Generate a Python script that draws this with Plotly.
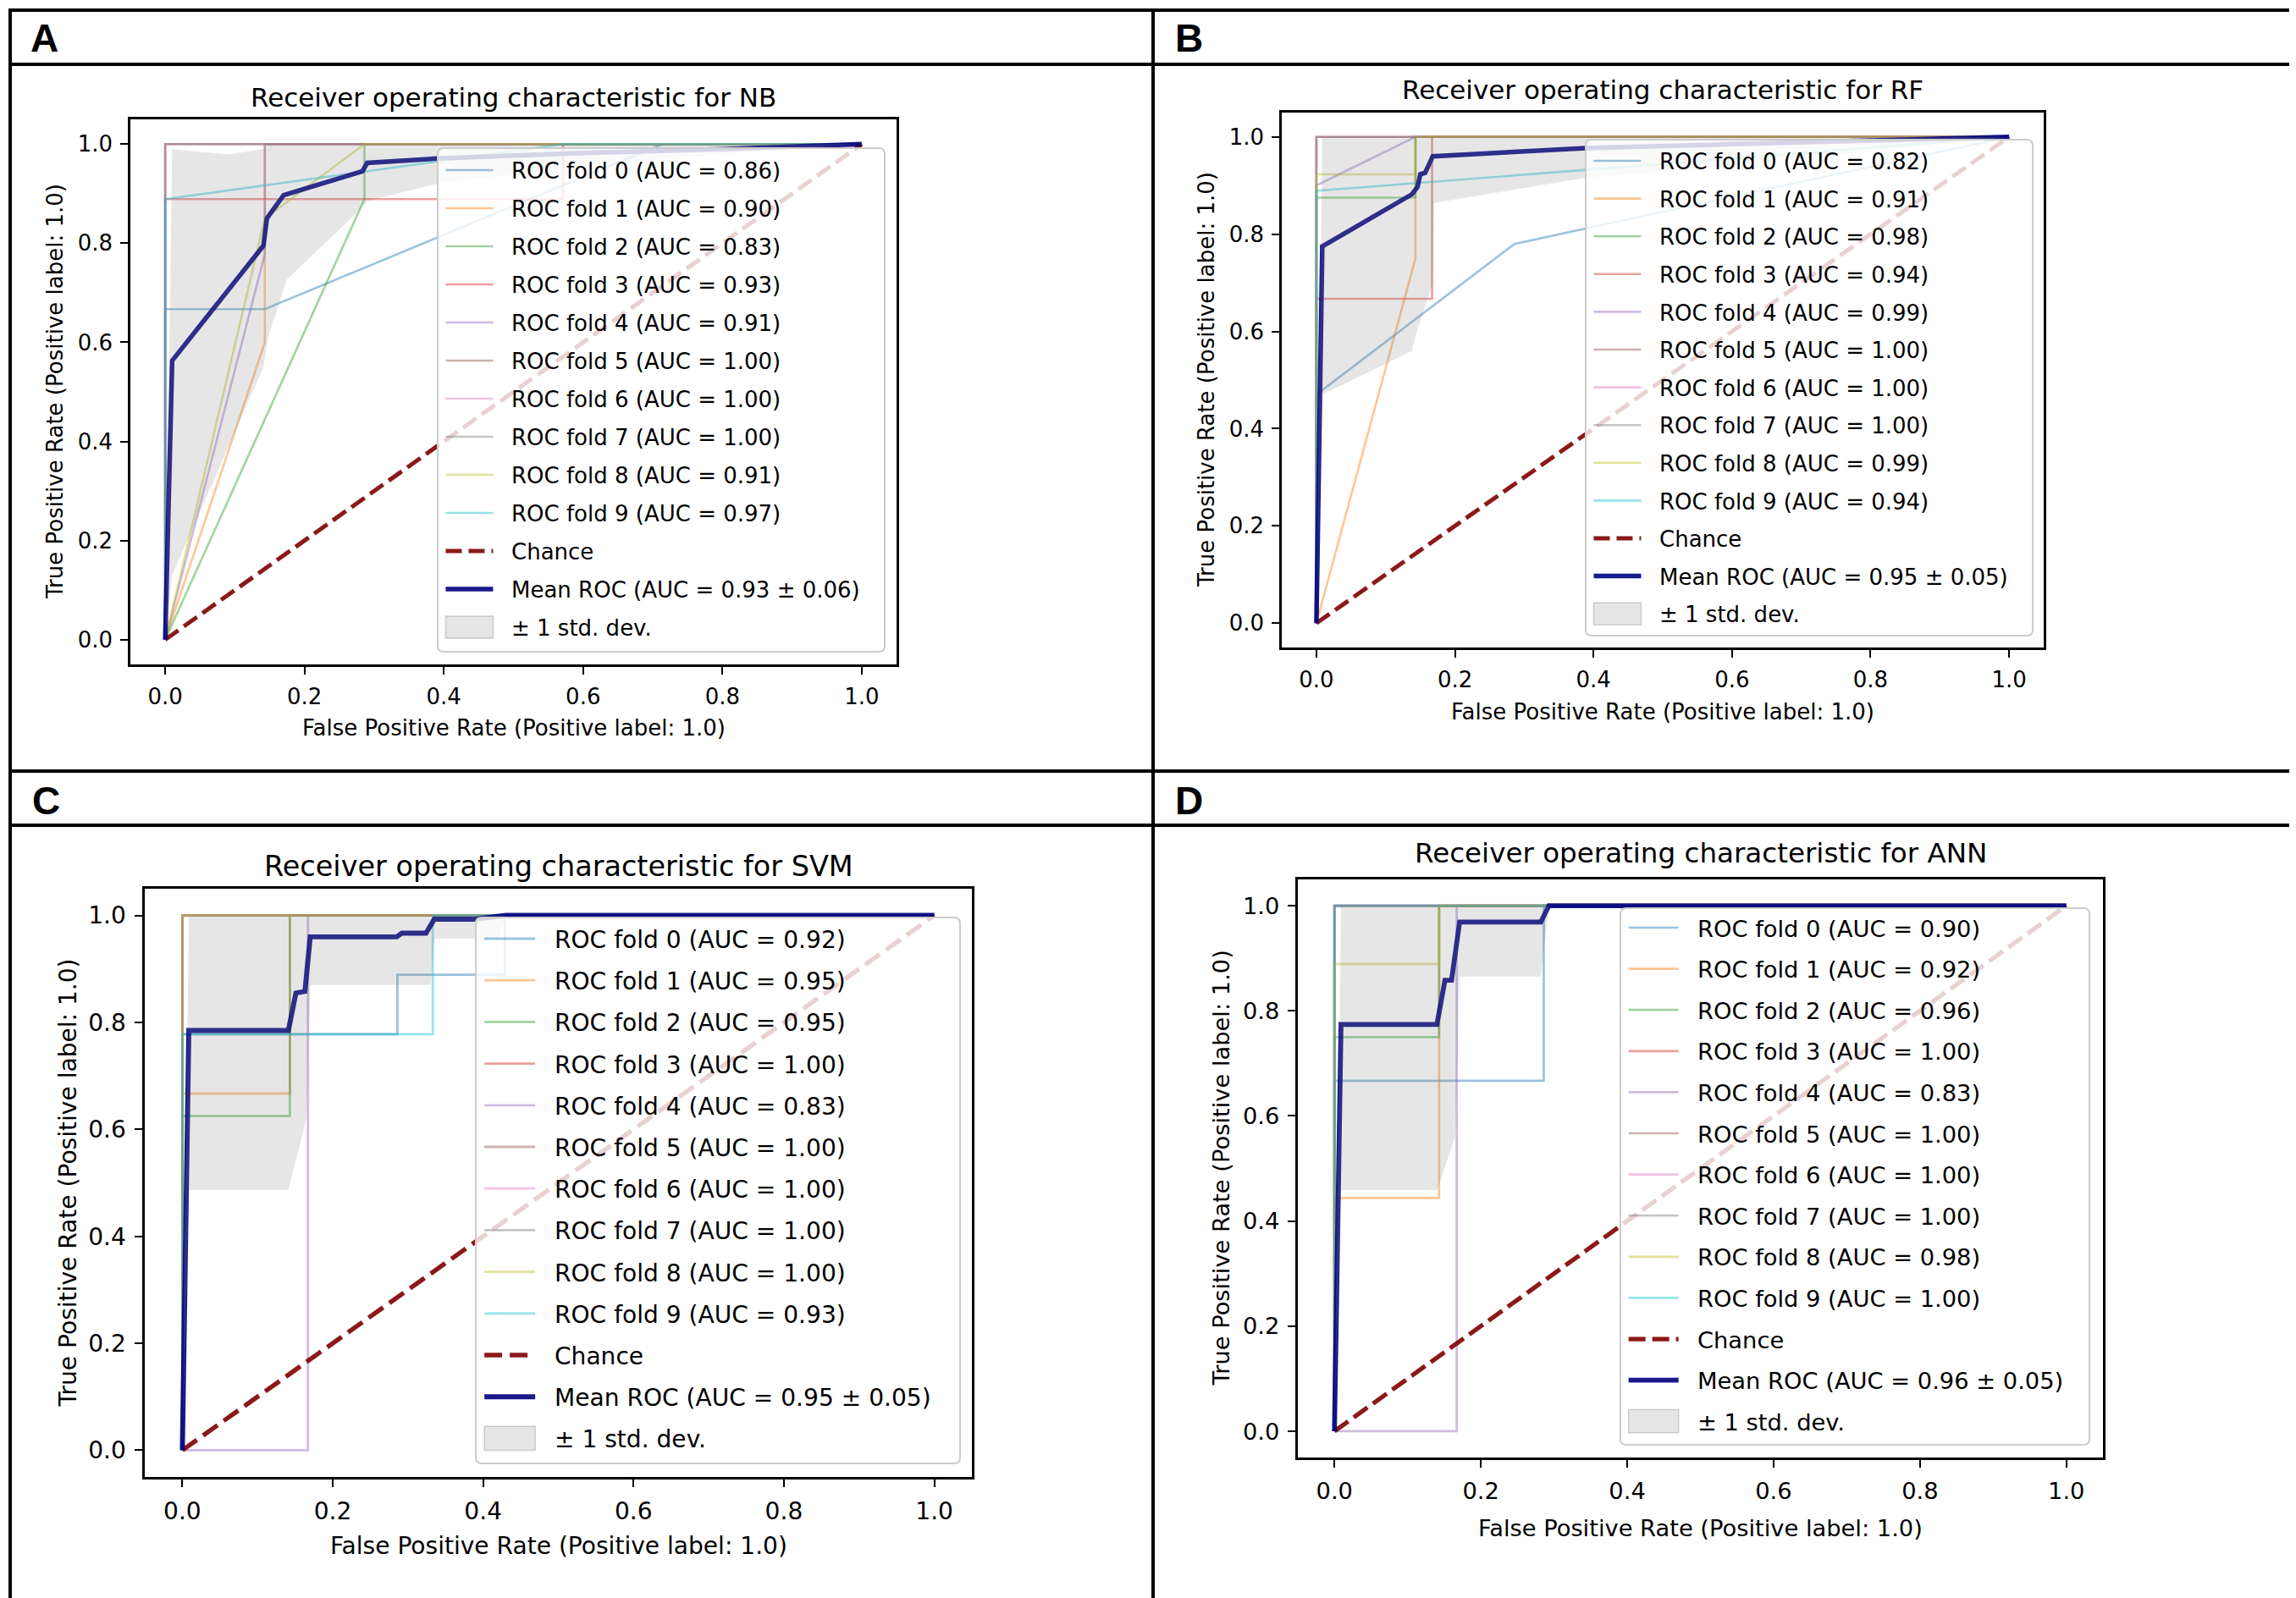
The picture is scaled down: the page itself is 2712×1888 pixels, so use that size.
import plotly.graph_objects as go

W, H = 2712, 1888

# ---------------- data ----------------
FOLD_COLORS = ["#1f77b4", "#ff7f0e", "#2ca02c", "#d62728", "#9467bd",
               "#8c564b", "#e377c2", "#7f7f7f", "#bcbd22", "#17becf"]
TICK_VALUES = [0.0, 0.2, 0.4, 0.6, 0.8, 1.0]
TICK_LABELS = ["0.0", "0.2", "0.4", "0.6", "0.8", "1.0"]
PANEL_LETTERS = ["A", "B", "C", "D"]
X_LABEL = "False Positive Rate (Positive label: 1.0)"
Y_LABEL = "True Positive Rate (Positive label: 1.0)"
CHANCE_FPR = [0, 1]
CHANCE_TPR = [0, 1]
STD_LABEL = "± 1 std. dev."

# A - NB
nb_title = "Receiver operating characteristic for NB"
nb_auc = ["0.86", "0.90", "0.83", "0.93", "0.91", "1.00", "1.00", "1.00", "0.91", "0.97"]
nb_fold_fpr = [[0, 0, 0.143, 0.714, 1], [0, 0.143, 0.143, 1], [0, 0.286, 0.286, 1],
               [0, 0, 0.571, 0.571, 1], [0, 0.143, 0.143, 1], [0, 0, 1], [0, 0, 1],
               [0, 0, 1], [0, 0.143, 0.286, 1], [0, 0, 0.571, 1]]
nb_fold_tpr = [[0, 0.667, 0.667, 1, 1], [0, 0.6, 1, 1], [0, 0.889, 1, 1],
               [0, 0.889, 0.889, 1, 1], [0, 0.778, 1, 1], [0, 1, 1], [0, 1, 1],
               [0, 1, 1], [0, 0.85, 1, 1], [0, 0.889, 1, 1]]
nb_mean_label = "Mean ROC (AUC = 0.93 ± 0.06)"
nb_mean_fpr = [0, 0.01, 0.141, 0.146, 0.152, 0.17, 0.283, 0.29, 0.39, 0.6, 0.8, 1.0]
nb_mean_tpr = [0, 0.563, 0.795, 0.85, 0.862, 0.897, 0.945, 0.962, 0.971, 0.982, 0.99, 1.0]
nb_low_fpr = [0, 0.01, 0.141, 0.147, 0.174, 0.271, 0.29, 0.39, 0.6, 0.8, 1.0]
nb_low_tpr = [0, 0.13, 0.55, 0.606, 0.726, 0.856, 0.885, 0.92, 0.955, 0.98, 1.0]
nb_up_fpr = [0, 0.01, 0.09, 0.14, 0.15, 1.0]
nb_up_tpr = [0, 0.99, 0.979, 0.99, 1.0, 1.0]

# B - RF
rf_title = "Receiver operating characteristic for RF"
rf_auc = ["0.82", "0.91", "0.98", "0.94", "0.99", "1.00", "1.00", "1.00", "0.99", "0.94"]
rf_fold_fpr = [[0, 0, 0.286, 1], [0, 0.143, 0.143, 1], [0, 0, 0.143, 0.143, 1],
               [0, 0, 0.167, 0.167, 1], [0, 0, 0.143, 1], [0, 0, 1], [0, 0, 1],
               [0, 0, 1], [0, 0, 0.143, 0.143, 1], [0, 0, 1]]
rf_fold_tpr = [[0, 0.47, 0.78, 1], [0, 0.75, 1, 1], [0, 0.875, 0.875, 1, 1],
               [0, 0.667, 0.667, 1, 1], [0, 0.9, 1, 1], [0, 1, 1], [0, 1, 1],
               [0, 1, 1], [0, 0.923, 0.923, 1, 1], [0, 0.889, 1]]
rf_mean_label = "Mean ROC (AUC = 0.95 ± 0.05)"
rf_mean_fpr = [0, 0.0085, 0.138, 0.146, 0.15, 0.157, 0.168, 0.389, 0.6, 1.0]
rf_mean_tpr = [0, 0.775, 0.882, 0.897, 0.923, 0.926, 0.96, 0.977, 0.985, 1.0]
rf_low_fpr = [0, 0.0085, 0.138, 0.145, 0.168, 0.17, 0.389, 0.6, 1.0]
rf_low_tpr = [0, 0.47, 0.56, 0.6, 0.70, 0.864, 0.916, 0.94, 1.0]
rf_up_fpr = [0, 0.0085, 1.0]
rf_up_tpr = [0, 1.0, 1.0]

# C - SVM
svm_title = "Receiver operating characteristic for SVM"
svm_auc = ["0.92", "0.95", "0.95", "1.00", "0.83", "1.00", "1.00", "1.00", "1.00", "0.93"]
svm_fold_fpr = [[0, 0, 0.286, 0.286, 0.429, 0.429, 1], [0, 0, 0.143, 0.143, 1],
                [0, 0, 0.143, 0.143, 1], [0, 0, 1], [0, 0.167, 0.167, 1], [0, 0, 1],
                [0, 0, 1], [0, 0, 1], [0, 0, 1], [0, 0, 0.333, 0.333, 1]]
svm_fold_tpr = [[0, 0.778, 0.778, 0.889, 0.889, 1, 1], [0, 0.667, 0.667, 1, 1],
                [0, 0.625, 0.625, 1, 1], [0, 1, 1], [0, 0, 1, 1], [0, 1, 1],
                [0, 1, 1], [0, 1, 1], [0, 1, 1], [0, 0.778, 0.778, 1, 1]]
svm_mean_label = "Mean ROC (AUC = 0.95 ± 0.05)"
svm_mean_fpr = [0, 0.0086, 0.141, 0.151, 0.163, 0.17, 0.285, 0.292, 0.324, 0.335, 0.389, 0.43, 1.0]
svm_mean_tpr = [0, 0.785, 0.785, 0.855, 0.858, 0.96, 0.96, 0.967, 0.967, 0.993, 0.993, 1.0, 1.0]
svm_low_fpr = [0, 0.0086, 0.141, 0.165, 0.17, 0.33, 0.335, 0.42, 0.43, 1.0]
svm_low_tpr = [0, 0.487, 0.487, 0.62, 0.87, 0.87, 0.957, 0.957, 1.0, 1.0]
svm_up_fpr = [0, 0.0086, 1.0]
svm_up_tpr = [0, 1.0, 1.0]

# D - ANN
ann_title = "Receiver operating characteristic for ANN"
ann_auc = ["0.90", "0.92", "0.96", "1.00", "0.83", "1.00", "1.00", "1.00", "0.98", "1.00"]
ann_fold_fpr = [[0, 0, 0.286, 0.286, 1], [0, 0, 0.143, 0.143, 1], [0, 0, 0.143, 0.143, 1],
                [0, 0, 1], [0, 0.167, 0.167, 1], [0, 0, 1], [0, 0, 1], [0, 0, 1],
                [0, 0, 0.143, 0.143, 1], [0, 0, 1]]
ann_fold_tpr = [[0, 0.667, 0.667, 1, 1], [0, 0.444, 0.444, 1, 1], [0, 0.75, 0.75, 1, 1],
                [0, 1, 1], [0, 0, 1, 1], [0, 1, 1], [0, 1, 1], [0, 1, 1],
                [0, 0.889, 0.889, 1, 1], [0, 1, 1]]
ann_mean_label = "Mean ROC (AUC = 0.96 ± 0.05)"
ann_mean_fpr = [0, 0.009, 0.14, 0.151, 0.16, 0.171, 0.282, 0.293, 1.0]
ann_mean_tpr = [0, 0.774, 0.774, 0.858, 0.858, 0.969, 0.969, 1.0, 1.0]
ann_low_fpr = [0, 0.009, 0.14, 0.165, 0.171, 0.282, 0.293, 1.0]
ann_low_tpr = [0, 0.459, 0.459, 0.56, 0.865, 0.865, 1.0, 1.0]
ann_up_fpr = [0, 0.009, 1.0]
ann_up_tpr = [0, 1.0, 1.0]

# ---------------- layout (pixel geometry) ----------------
panels = [
    dict(title=nb_title, auc=nb_auc, ffpr=nb_fold_fpr, ftpr=nb_fold_tpr, mlab=nb_mean_label,
         mfpr=nb_mean_fpr, mtpr=nb_mean_tpr, lfpr=nb_low_fpr, ltpr=nb_low_tpr,
         ufpr=nb_up_fpr, utpr=nb_up_tpr,
         ax=(146, 133, 1051, 777), s=1.0, title_y=107, xt_y=852, yt_x=57,
         leg_box=(509, 167, 1037, 762), text_x=596, first_y=193, pitch=45.0,
         letter_xy=(26, 37)),
    dict(title=rf_title, auc=rf_auc, ffpr=rf_fold_fpr, ftpr=rf_fold_tpr, mlab=rf_mean_label,
         mfpr=rf_mean_fpr, mtpr=rf_mean_tpr, lfpr=rf_low_fpr, ltpr=rf_low_tpr,
         ufpr=rf_up_fpr, utpr=rf_up_tpr,
         ax=(1506, 125, 2406, 757), s=1.0, title_y=98, xt_y=833, yt_x=1417,
         leg_box=(1865, 157, 2393, 743), text_x=1952, first_y=182, pitch=44.6,
         letter_xy=(1378, 37)),
    dict(title=svm_title, auc=svm_auc, ffpr=svm_fold_fpr, ftpr=svm_fold_tpr, mlab=svm_mean_label,
         mfpr=svm_mean_fpr, mtpr=svm_mean_tpr, lfpr=svm_low_fpr, ltpr=svm_low_tpr,
         ufpr=svm_up_fpr, utpr=svm_up_tpr,
         ax=(163, 1042, 1140, 1737), s=1.08, title_y=1015, xt_y=1818, yt_x=72,
         leg_box=(554, 1076, 1126, 1721), text_x=647, first_y=1101, pitch=49.2,
         letter_xy=(28, 938)),
    dict(title=ann_title, auc=ann_auc, ffpr=ann_fold_fpr, ftpr=ann_fold_tpr, mlab=ann_mean_label,
         mfpr=ann_mean_fpr, mtpr=ann_mean_tpr, lfpr=ann_low_fpr, ltpr=ann_low_tpr,
         ufpr=ann_up_fpr, utpr=ann_up_tpr,
         ax=(1525, 1031, 2476, 1714), s=1.05, title_y=1000, xt_y=1797, yt_x=1434,
         leg_box=(1906, 1065, 2460, 1699), text_x=1997, first_y=1088, pitch=48.6,
         letter_xy=(1378, 938)),
]

FONT = "DejaVu Sans"
NBSP = "\u00a0"
SPACE_EM = 0.318  # width of a space in DejaVu Sans


def px(x):
    return x / W


def py(y):
    return 1 - y / H


def rgba(hex_color, a):
    h = hex_color.lstrip("#")
    r, g, b = int(h[0:2], 16), int(h[2:4], 16), int(h[4:6], 16)
    return f"rgba({r},{g},{b},{a})"


def rounded_rect(x0, y0, x1, y1, r):
    def P(x, y):
        return f"{px(x):.6f},{py(y):.6f}"
    return (f"M {P(x0 + r, y0)} L {P(x1 - r, y0)} Q {P(x1, y0)} {P(x1, y0 + r)} "
            f"L {P(x1, y1 - r)} Q {P(x1, y1)} {P(x1 - r, y1)} "
            f"L {P(x0 + r, y1)} Q {P(x0, y1)} {P(x0, y1 - r)} "
            f"L {P(x0, y0 + r)} Q {P(x0, y0)} {P(x0 + r, y0)} Z")


fig = go.Figure()
layout = dict(width=W, height=H, autosize=False, margin=dict(l=0, r=0, t=0, b=0),
              paper_bgcolor="white", plot_bgcolor="white", showlegend=True)
shapes = []
annotations = []

for i, p in enumerate(panels):
    n = i + 1
    sfx = "" if n == 1 else str(n)
    xa, ya, leg = "x" + sfx, "y" + sfx, "legend" + sfx
    s = p["s"]
    x0, y0, x1, y1 = p["ax"]
    fs = 26 * s
    pad = NBSP * 2

    for k in range(10):
        fig.add_trace(go.Scatter(
            x=p["ffpr"][k], y=p["ftpr"][k], mode="lines",
            line=dict(color=rgba(FOLD_COLORS[k], 0.45), width=2.6 * s),
            name=f"{pad}ROC fold {k} (AUC = {p['auc'][k]})",
            xaxis=xa, yaxis=ya, legend=leg, legendgroup=f"{n}_{k}", hoverinfo="skip"))
    fig.add_trace(go.Scatter(
        x=CHANCE_FPR, y=CHANCE_TPR, mode="lines",
        line=dict(color="rgba(128,0,0,0.9)", width=5 * s, dash=f"{19*s:.0f}px,{8*s:.0f}px"),
        name=f"{pad}Chance", xaxis=xa, yaxis=ya, legend=leg, legendgroup=f"{n}_c",
        hoverinfo="skip"))
    fig.add_trace(go.Scatter(
        x=p["mfpr"], y=p["mtpr"], mode="lines",
        line=dict(color="rgba(0,0,128,0.9)", width=5.5 * s),
        name=f"{pad}{p['mlab']}", xaxis=xa, yaxis=ya, legend=leg, legendgroup=f"{n}_m",
        hoverinfo="skip"))
    fig.add_trace(go.Scatter(
        x=p["lfpr"], y=p["ltpr"], mode="lines", line=dict(width=0, color="rgba(0,0,0,0)"),
        showlegend=False, xaxis=xa, yaxis=ya, hoverinfo="skip"))
    fig.add_trace(go.Scatter(
        x=p["ufpr"], y=p["utpr"], mode="lines", line=dict(width=0, color="rgba(0,0,0,0)"),
        fill="tonexty", fillcolor="rgba(128,128,128,0.2)", showlegend=False,
        xaxis=xa, yaxis=ya, hoverinfo="skip"))
    # legend entry for the band (its swatch is drawn as a shape below)
    fig.add_trace(go.Scatter(
        x=[None], y=[None], mode="lines", line=dict(width=0, color="rgba(0,0,0,0)"),
        name=f"{pad}{STD_LABEL}", xaxis=xa, yaxis=ya, legend=leg, legendgroup=f"{n}_s",
        hoverinfo="skip"))

    axis_common = dict(range=[-0.05, 1.05], showline=True, linecolor="black", linewidth=2.5,
                       mirror=True, ticks="outside", ticklen=9 * s, tickwidth=2, tickcolor="black",
                       tickvals=TICK_VALUES, ticktext=TICK_LABELS, showgrid=False, zeroline=False,
                       tickfont=dict(family=FONT, size=fs, color="black"), fixedrange=True)
    layout["xaxis" + sfx] = dict(axis_common, domain=[px(x0), px(x1)], anchor=ya,
                                 ticklabelstandoff=4)
    layout["yaxis" + sfx] = dict(axis_common, domain=[py(y1), py(y0)], anchor=xa,
                                 ticklabelstandoff=4)

    item_h = 1.3 * fs + 3
    iw = int(round(56 * s))
    gap_px = 2 * SPACE_EM * fs
    leg_x = p["text_x"] - gap_px - iw - 10
    leg_top = p["first_y"] - (item_h / 2 + 5)
    layout[leg] = dict(x=px(leg_x), y=py(leg_top), xanchor="left", yanchor="top",
                       xref="paper", yref="paper", bgcolor="rgba(0,0,0,0)", borderwidth=0,
                       font=dict(family=FONT, size=fs, color="black"),
                       itemwidth=iw,
                       tracegroupgap=p["pitch"] - item_h,
                       itemclick=False, itemdoubleclick=False)

    bx0, by0, bx1, by1 = p["leg_box"]
    shapes.append(dict(type="path", xref="paper", yref="paper", layer="above",
                       path=rounded_rect(bx0, by0, bx1, by1, 7),
                       fillcolor="rgba(255,255,255,0.8)", line=dict(color="#cccccc", width=2)))
    # band swatch in the legend, aligned with the line samples
    sy = p["first_y"] + 12 * p["pitch"]
    sx0 = leg_x + 5
    shapes.append(dict(type="rect", xref="paper", yref="paper", layer="above",
                       x0=px(sx0), x1=px(sx0 + iw),
                       y0=py(sy + 13 * s), y1=py(sy - 13 * s),
                       fillcolor="rgba(128,128,128,0.2)",
                       line=dict(color="rgba(128,128,128,0.35)", width=1.5)))

    cx = (x0 + x1) / 2
    cy = (y0 + y1) / 2
    annotations.append(dict(text=p["title"], x=px(cx), y=py(p["title_y"]), xref="paper",
                            yref="paper", xanchor="center", yanchor="middle", showarrow=False,
                            font=dict(family=FONT, size=31 * s, color="black")))
    annotations.append(dict(text=X_LABEL, x=px(cx), y=py(p["xt_y"]), xref="paper", yref="paper",
                            xanchor="center", yanchor="middle", showarrow=False,
                            font=dict(family=FONT, size=fs, color="black")))
    annotations.append(dict(text=Y_LABEL, x=px(p["yt_x"]), y=py(cy), xref="paper", yref="paper",
                            xanchor="center", yanchor="middle", showarrow=False, textangle=-90,
                            font=dict(family=FONT, size=fs, color="black")))
    lxl, lyl = p["letter_xy"]
    annotations.append(dict(text=f"<b>{PANEL_LETTERS[i]}</b>", x=px(lxl), y=py(lyl),
                            xref="paper", yref="paper", xanchor="left", yanchor="middle",
                            showarrow=False,
                            font=dict(family="Liberation Sans", size=46, color="black")))

# grid frame
line_style = dict(color="black", width=4)
shapes.append(dict(type="rect", xref="paper", yref="paper", x0=px(4), y0=py(1884),
                   x1=px(2704), y1=py(4), line=line_style, layer="above"))
shapes.append(dict(type="line", xref="paper", yref="paper", x0=px(1354), x1=px(1354),
                   y0=py(4), y1=py(1884), line=line_style, layer="above"))
for yy in (68, 903, 967):
    shapes.append(dict(type="line", xref="paper", yref="paper", x0=px(4), x1=px(2704),
                       y0=py(yy), y1=py(yy), line=line_style, layer="above"))

layout["shapes"] = shapes
layout["annotations"] = annotations
fig.update_layout(**layout)
fig.write_html("out.html")
